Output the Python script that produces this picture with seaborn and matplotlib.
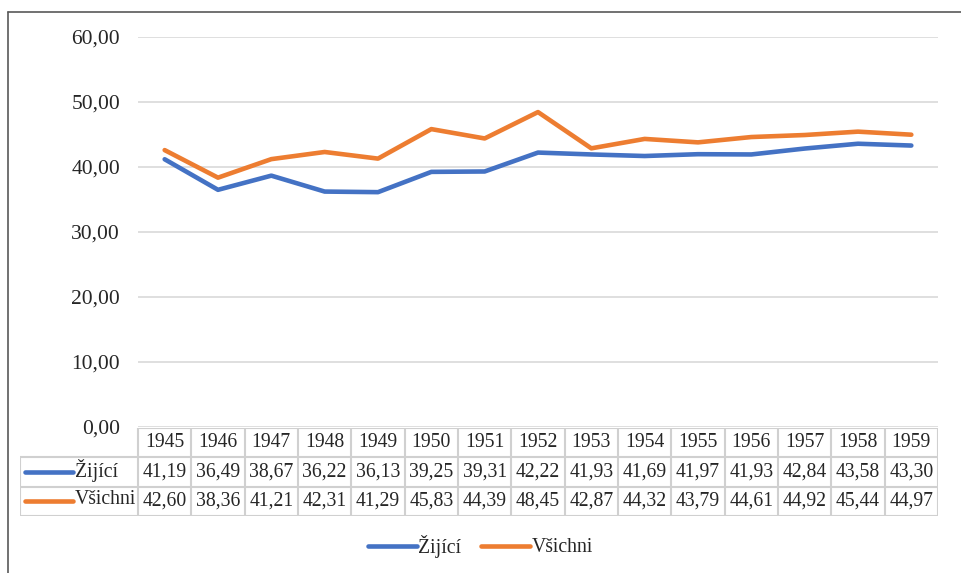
import numpy as np
import pandas as pd
import matplotlib.pyplot as plt
from matplotlib.lines import Line2D
import seaborn as sns

years = ['1945', '1946', '1947', '1948', '1949', '1950', '1951', '1952',
         '1953', '1954', '1955', '1956', '1957', '1958', '1959']
zijici = [41.19, 36.49, 38.67, 36.22, 36.13, 39.25, 39.31, 42.22,
          41.93, 41.69, 41.97, 41.93, 42.84, 43.58, 43.30]
vsichni = [42.60, 38.36, 41.21, 42.31, 41.29, 45.83, 44.39, 48.45,
           42.87, 44.32, 43.79, 44.61, 44.92, 45.44, 44.97]
series_names = ['Žijící', 'Všichni']
colors = ['#4472C4', '#ED7D31']
yticks = [0, 10, 20, 30, 40, 50, 60]

sns.set_theme(style='white')
plt.rcParams['font.family'] = ['Liberation Serif', 'DejaVu Serif']
txt = '#262626'

W, H = 961, 573
fig = plt.figure(figsize=(W / 100, H / 100), dpi=100)

def px(x0, y0, x1, y1):
    return [x0 / W, 1 - y1 / H, (x1 - x0) / W, (y1 - y0) / H]

df = pd.DataFrame({'x': list(range(len(years))) * 2,
                   'value': zijici + vsichni,
                   'series': [series_names[0]] * len(years) + [series_names[1]] * len(years)})

ax = fig.add_axes(px(138, 37, 938, 427))
sns.lineplot(data=df, x='x', y='value', hue='series', palette=colors,
             linewidth=3.3, ax=ax, legend=False)
ax.set_xlim(-0.5, len(years) - 0.5)
ax.set_ylim(0, 60)
ax.set_yticks(yticks)
ax.set_yticklabels([f'{v:.2f}'.replace('.', ',') for v in yticks], fontsize=15.5, color=txt)
ax.tick_params(axis='y', length=0, pad=13)
ax.set_xticks([])
ax.set_xlabel('')
ax.set_ylabel('')
for s in ax.spines.values():
    s.set_visible(False)
ax.grid(axis='y', color='#D9D9D9', linewidth=1.2)
ax.set_axisbelow(True)

# data table under the plot
tab = fig.add_axes(px(20, 428, 938, 516))
unit = 800 / len(years)
left = -0.5 - 118 / unit
tab.set_xlim(left, len(years) - 0.5)
tab.set_ylim(3, 0)
tab.axis('off')
gc = '#D0D0D0'
lw = 1.5
tab.hlines([0], -0.5, len(years) - 0.5, color=gc, lw=lw)
tab.hlines([1, 2, 3], left, len(years) - 0.5, color=gc, lw=lw)
tab.vlines(np.arange(len(years) + 1) - 0.5, 0, 3, color=gc, lw=lw)
tab.vlines([left], 1, 3, color=gc, lw=lw)
fs = 14.2
for i, y in enumerate(years):
    tab.text(i, 0.5, y, ha='center', va='center', fontsize=fs, color=txt)
for r, (vals, name, c) in enumerate(zip([zijici, vsichni], series_names, colors)):
    yy = r + 1.5
    for i, v in enumerate(vals):
        tab.text(i, yy, f'{v:.2f}'.replace('.', ','), ha='center', va='center',
                 fontsize=fs, color=txt)
    tab.plot([left + 5 / unit, left + 53 / unit], [yy, yy], color=c, lw=3.3,
             solid_capstyle='round')
    tab.text(left + 55 / unit, yy - 0.05, name, ha='left', va='center', fontsize=fs, color=txt)

handles = [Line2D([0], [0], color=c, lw=3.3, solid_capstyle='round') for c in colors]
fig.legend(handles, series_names, loc='center', bbox_to_anchor=(0.5, 1 - 546 / H),
           ncol=2, frameon=False, fontsize=fs, handlelength=2.5, handletextpad=0.05,
           columnspacing=1.0, labelcolor=txt)

# outer frame (left and top edges)
fig.add_artist(Line2D([8 / W, 8 / W], [0, 1 - 12 / H], color='#595959', lw=1.2))
fig.add_artist(Line2D([8 / W, 1], [1 - 12 / H, 1 - 12 / H], color='#595959', lw=1.2))

fig.savefig('out.png', dpi=100)
